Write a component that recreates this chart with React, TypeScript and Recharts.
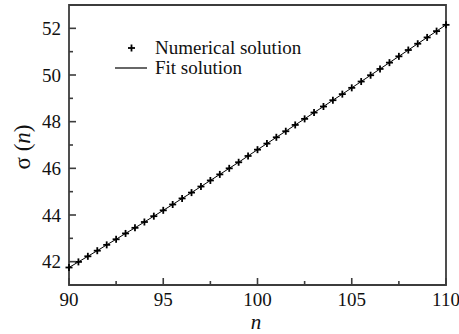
import { Line, LineChart, ReferenceArea, XAxis, YAxis } from 'recharts';

const N_VALUES = [
  90, 90.5, 91, 91.5, 92, 92.5, 93, 93.5, 94, 94.5, 95, 95.5, 96, 96.5, 97, 97.5, 98, 98.5, 99, 99.5,
  100, 100.5, 101, 101.5, 102, 102.5, 103, 103.5, 104, 104.5, 105, 105.5, 106, 106.5, 107, 107.5, 108,
  108.5, 109, 109.5, 110,
];
const SIGMA_VALUES = [
  41.75, 41.99, 42.23, 42.47, 42.72, 42.96, 43.21, 43.45, 43.7, 43.95, 44.2, 44.45, 44.71, 44.96, 45.22,
  45.48, 45.74, 46.0, 46.26, 46.53, 46.8, 47.06, 47.33, 47.59, 47.86, 48.12, 48.39, 48.65, 48.92, 49.18,
  49.45, 49.72, 49.99, 50.26, 50.53, 50.8, 51.07, 51.34, 51.61, 51.88, 52.15,
];

const X_TICKS = [90, 92.5, 95, 97.5, 100, 102.5, 105, 107.5, 110];
const Y_TICKS = [42, 43, 44, 45, 46, 47, 48, 49, 50, 51, 52];
const LEGEND_LABELS = ['Numerical solution', 'Fit solution'];

const DATA = N_VALUES.map((n, i) => ({ n, sigma: SIGMA_VALUES[i] }));

const SERIF = { fontFamily: "'Liberation Serif', 'Times New Roman', Times, serif" };
const AXIS_COLOR = '#3c3c3c';

function XTick(props: any) {
  const { x, y, payload } = props;
  const major = payload.value % 5 === 0;
  return (
    <g>
      <line x1={x} x2={x} y1={y} y2={y - (major ? 7 : 4)} stroke={AXIS_COLOR} strokeWidth={1.6} />
      {major && (
        <text x={x} y={y + 21} textAnchor="middle" style={SERIF} fontSize={19} fill="#111">
          {payload.value}
        </text>
      )}
    </g>
  );
}

function YTick(props: any) {
  const { x, y, payload } = props;
  const major = payload.value % 2 === 0;
  return (
    <g>
      <line x1={x} x2={x + (major ? 7 : 4)} y1={y} y2={y} stroke={AXIS_COLOR} strokeWidth={1.6} />
      {major && (
        <text x={x - 8} y={y + 6.5} textAnchor="end" style={SERIF} fontSize={19} fill="#111">
          {payload.value}
        </text>
      )}
    </g>
  );
}

function PlusDot(props: any) {
  const { cx, cy } = props;
  if (cx == null || cy == null) return null;
  return (
    <g>
      <line x1={cx - 3.5} x2={cx + 3.5} y1={cy} y2={cy} stroke="#000" strokeWidth={1.8} />
      <line x1={cx} x2={cx} y1={cy - 3.5} y2={cy + 3.5} stroke="#000" strokeWidth={1.8} />
    </g>
  );
}

// legend drawn as svg inside the frame, top-left
function LegendBlock() {
  return (
    <g style={SERIF} fontSize={19} fill="#111">
      <line x1={128} x2={135} y1={48} y2={48} stroke="#000" strokeWidth={1.8} />
      <line x1={131.5} x2={131.5} y1={44.5} y2={51.5} stroke="#000" strokeWidth={1.8} />
      <text x={155} y={54}>{LEGEND_LABELS[0]}</text>
      <line x1={115} x2={147} y1={68} y2={68} stroke="#000" strokeWidth={1.2} />
      <text x={155} y={74}>{LEGEND_LABELS[1]}</text>
    </g>
  );
}

export default function App() {
  return (
    <div style={{ position: 'absolute', left: 0, top: 0, width: 459, height: 334, background: '#fff' }}>
      <LineChart width={459} height={334} data={DATA} margin={{ top: 5, right: 13, bottom: 0, left: 0 }}>
        <XAxis
          dataKey="n"
          type="number"
          domain={[90, 110]}
          ticks={X_TICKS}
          interval={0}
          height={49}
          axisLine={false}
          tickLine={false}
          tickSize={0}
          tickMargin={0}
          tick={<XTick />}
          label={{
            content: () => (
              <text x={256} y={329} textAnchor="middle" style={SERIF} fontStyle="italic" fontSize={21} fill="#111">
                n
              </text>
            ),
          }}
        />
        <YAxis
          type="number"
          domain={[41, 53]}
          ticks={Y_TICKS}
          interval={0}
          width={69}
          axisLine={false}
          tickLine={false}
          tickSize={0}
          tickMargin={0}
          tick={<YTick />}
          label={{
            content: () => (
              <text
                x={22}
                y={147}
                transform="rotate(-90, 22, 147)"
                textAnchor="middle"
                dominantBaseline="central"
                style={SERIF}
                fontSize={23}
                fill="#111"
              >
                σ (<tspan fontStyle="italic">n</tspan>)
              </text>
            ),
          }}
        />
        <ReferenceArea
          x1={90}
          x2={110}
          y1={41}
          y2={53}
          fill="none"
          stroke={AXIS_COLOR}
          strokeWidth={1.8}
          label={{ content: () => <LegendBlock /> }}
        />
        <Line
          type="monotone"
          dataKey="sigma"
          stroke="#000"
          strokeWidth={1}
          dot={<PlusDot />}
          activeDot={false}
          isAnimationActive={false}
        />
      </LineChart>
    </div>
  );
}
